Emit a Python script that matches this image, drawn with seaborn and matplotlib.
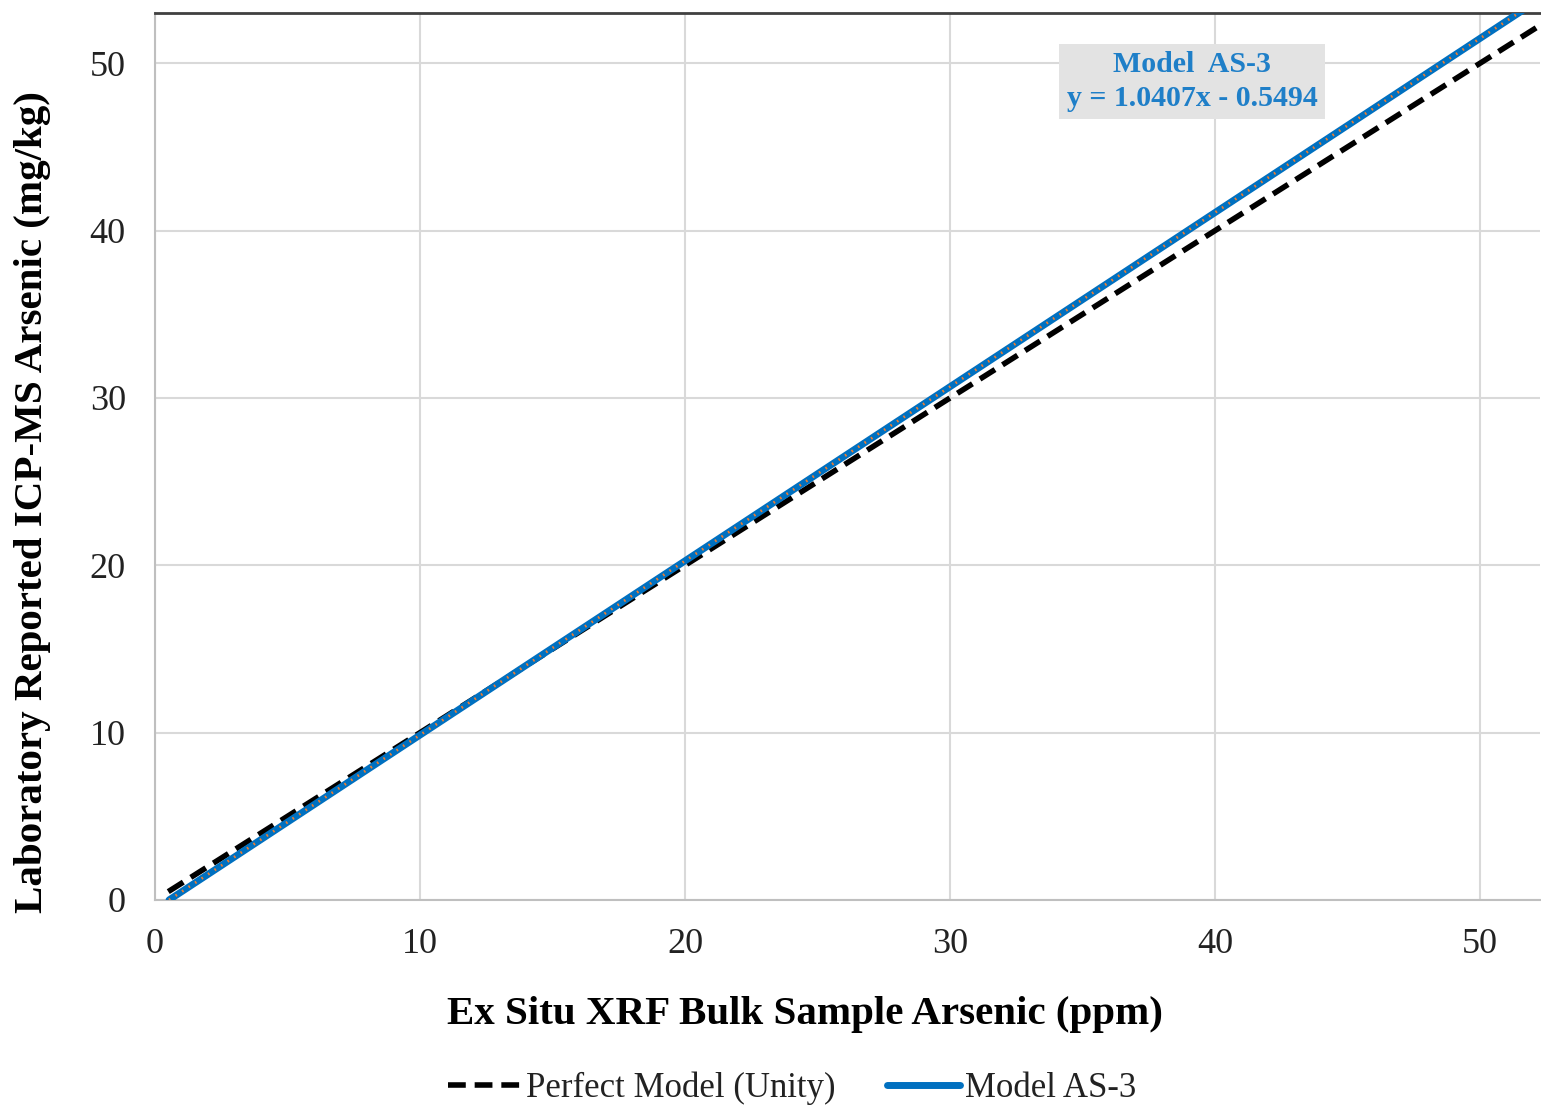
import matplotlib
matplotlib.use("Agg")
import matplotlib.pyplot as plt
import seaborn as sns
import pandas as pd

# Line endpoints (ppm on the x axis)
unity_x = [0.5, 53.0]
model_x = [0.53, 51.6]
model_slope = 1.0407
model_intercept = -0.5494

x_ticks = [0, 10, 20, 30, 40, 50]
y_ticks = [0, 10, 20, 30, 40, 50]

sns.set_theme(style="whitegrid")
plt.rcParams['font.family'] = ['Liberation Serif', 'DejaVu Serif']

unity = pd.DataFrame({"x": unity_x, "y": unity_x})
model = pd.DataFrame({"x": model_x,
                      "y": [model_slope * v + model_intercept for v in model_x]})

fig = plt.figure(figsize=(15.41, 11.06), dpi=100)
ax = fig.add_axes([155 / 1541, 1 - 900 / 1106, 1385 / 1541, 887 / 1106])

sns.lineplot(data=unity, x="x", y="y", ax=ax, color="black", lw=4,
             linestyle=(0, (3.2, 1.6)), label="Perfect Model (Unity)", zorder=3)
sns.lineplot(data=model, x="x", y="y", ax=ax, color="#0070c0", lw=5,
             label="Model AS-3", zorder=4)
sns.lineplot(data=model, x="x", y="y", ax=ax, color="#ed7d31", lw=2,
             linestyle=(0, (0.6, 2.2)), legend=False, zorder=5)

ax.set_xlim(0, 52.26)
ax.set_ylim(0, 53.0)
ax.set_xticks(x_ticks)
ax.set_yticks(y_ticks)
ax.tick_params(axis="both", labelsize=26, colors="#222222", length=0)
ax.tick_params(axis="x", pad=20)
ax.tick_params(axis="y", pad=21)
ax.grid(True, color="#d9d9d9", lw=1.5)

for side in ["left", "bottom"]:
    ax.spines[side].set_color("#bfbfbf")
    ax.spines[side].set_linewidth(1.5)
ax.spines["top"].set_color("#404040")
ax.spines["top"].set_linewidth(2)
ax.spines["right"].set_visible(False)

ax.set_xlabel("Ex Situ XRF Bulk Sample Arsenic (ppm)", fontsize=29.5,
              fontweight="bold", color="black")
ax.set_ylabel("Laboratory Reported ICP-MS Arsenic (mg/kg)", fontsize=29.5,
              fontweight="bold", color="black")
ax.xaxis.set_label_coords(0.469, -0.108)
ax.yaxis.set_label_coords(-0.075, 0.449)

ax.text(39.13, 48.9, "Model  AS-3\ny = 1.0407x - 0.5494", ha="center", va="center",
        fontsize=21.5, fontweight="bold", color="#1f7fc8", linespacing=1.3,
        bbox=dict(boxstyle="square,pad=0.25", fc="#e3e3e3", ec="none"), zorder=6)

leg = ax.legend(loc="center", bbox_to_anchor=(0.46, -0.212), ncol=2,
                frameon=False, fontsize=25, handlelength=2.1, handletextpad=0.15,
                columnspacing=1.5)
for t in leg.get_texts():
    t.set_color("#222222")

fig.savefig("out.png", dpi=100)
